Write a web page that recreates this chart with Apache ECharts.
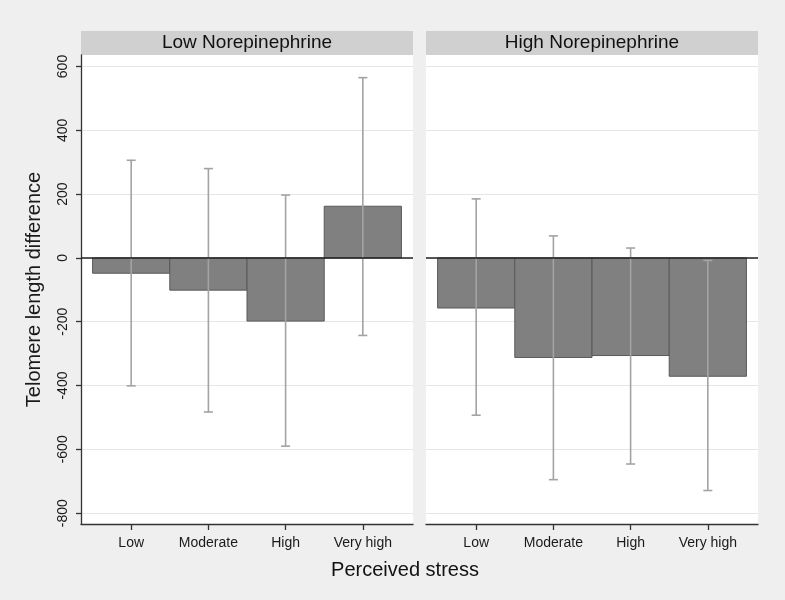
<!DOCTYPE html>
<html>
<head>
<meta charset="utf-8">
<script src="https://cdn.jsdelivr.net/npm/echarts@6/dist/echarts.min.js"></script>
<style>
html,body{margin:0;padding:0;background:#efefef;}
#chart{width:785px;height:600px;}
</style>
</head>
<body>
<div id="chart"></div>
<script>
const categories = ['Low', 'Moderate', 'High', 'Very high'];
const panelTitles = ['Low Norepinephrine', 'High Norepinephrine'];
const lowNE_mean = [-48, -101, -198, 162];
const lowNE_upper = [306, 280, 197, 565];
const lowNE_lower = [-401, -483, -590, -243];
const highNE_mean = [-157, -312, -306, -371];
const highNE_upper = [185, 69, 31, -8];
const highNE_lower = [-493, -695, -646, -729];
const yTicks = [-800, -600, -400, -200, 0, 200, 400, 600];
const xTicks = [1, 2, 3, 4];

const FONT = 'Liberation Sans, Arial, sans-serif';

function barData(means) { return means.map((m, i) => [i + 1, m]); }
function errData(lo, hi) { return lo.map((l, i) => [i + 1, l, hi[i]]); }

function renderBar(params, api) {
  const x = api.value(0), y = api.value(1);
  const p0 = api.coord([x - 0.5, y]);
  const p1 = api.coord([x + 0.5, 0]);
  return {
    type: 'rect',
    shape: { x: p0[0], y: Math.min(p0[1], p1[1]), width: p1[0] - p0[0], height: Math.abs(p1[1] - p0[1]) },
    style: { fill: '#808080', stroke: '#595959', lineWidth: 1 }
  };
}
function renderErr(params, api) {
  const x = api.value(0);
  const pl = api.coord([x, api.value(1)]);
  const ph = api.coord([x, api.value(2)]);
  const hw = 4.5;
  const st = { stroke: '#a3a3a3', lineWidth: 1.6 };
  return {
    type: 'group',
    children: [
      { type: 'line', shape: { x1: pl[0], y1: pl[1], x2: ph[0], y2: ph[1] }, style: st },
      { type: 'line', shape: { x1: pl[0] - hw, y1: pl[1], x2: pl[0] + hw, y2: pl[1] }, style: st },
      { type: 'line', shape: { x1: ph[0] - hw, y1: ph[1], x2: ph[0] + hw, y2: ph[1] }, style: st }
    ]
  };
}

const grids = [
  { left: 81, top: 55, width: 332, height: 469 },
  { left: 426, top: 55, width: 332, height: 469 }
];

function xAxisFor(i) {
  return {
    type: 'value', gridIndex: i, min: 0.35, max: 4.65,
    axisLine: { show: true, onZero: false, lineStyle: { color: '#333', width: 1.3 } },
    axisTick: { show: true, length: 6, customValues: xTicks, lineStyle: { color: '#333', width: 1.3 } },
    axisLabel: { customValues: xTicks, formatter: v => categories[Math.round(v) - 1], fontSize: 14, color: '#1a1a1a', fontFamily: FONT, margin: 12 },
    splitLine: { show: false }
  };
}
function yAxisFor(i) {
  return {
    type: 'value', gridIndex: i, min: -834, max: 636,
    axisLine: { show: i === 0, onZero: false, lineStyle: { color: '#333', width: 1.3 } },
    axisTick: { show: i === 0, length: 5, customValues: yTicks, lineStyle: { color: '#333', width: 1.3 } },
    axisLabel: { show: i === 0, customValues: yTicks, rotate: 90, fontSize: 14, color: '#1a1a1a', fontFamily: FONT, margin: 11 },
    splitLine: { show: true, lineStyle: { color: '#e6e6e6', width: 1.2 } },
    name: i === 0 ? 'Telomere length difference' : '',
    nameLocation: 'middle', nameGap: 37,
    nameTextStyle: { fontSize: 20, color: '#1a1a1a', fontFamily: FONT }
  };
}

const zeroLine = {
  silent: true, symbol: ['none', 'none'],
  lineStyle: { color: '#222', width: 1.5, type: 'solid' },
  label: { show: false },
  data: [{ yAxis: 0 }]
};

const series = [];
[[lowNE_mean, lowNE_lower, lowNE_upper], [highNE_mean, highNE_lower, highNE_upper]].forEach((d, i) => {
  series.push({ type: 'custom', xAxisIndex: i, yAxisIndex: i, renderItem: renderBar, data: barData(d[0]), markLine: zeroLine, z: 2 });
  series.push({ type: 'custom', xAxisIndex: i, yAxisIndex: i, renderItem: renderErr, data: errData(d[1], d[2]), z: 3 });
});

const graphic = [];
grids.forEach((g, i) => {
  graphic.push({ type: 'rect', left: g.left, top: 31, shape: { width: g.width, height: 24 }, style: { fill: '#d0d0d0' }, z: 0 });
  graphic.push({ type: 'text', x: g.left + g.width / 2, y: 43, style: { text: panelTitles[i], fontSize: 19, fill: '#111', fontFamily: FONT, align: 'center', verticalAlign: 'middle' }, z: 1 });
});
graphic.push({ type: 'text', x: 405, y: 570, style: { text: 'Perceived stress', fontSize: 20, fill: '#111', fontFamily: FONT, align: 'center', verticalAlign: 'middle' } });

const chart = echarts.init(document.getElementById('chart'));
chart.setOption({
  backgroundColor: '#efefef',
  animation: false,
  textStyle: { fontFamily: FONT },
  grid: grids.map(g => Object.assign({ show: true, backgroundColor: '#ffffff', borderWidth: 0 }, g)),
  xAxis: [xAxisFor(0), xAxisFor(1)],
  yAxis: [yAxisFor(0), yAxisFor(1)],
  series: series,
  graphic: graphic
});
</script>
</body>
</html>
